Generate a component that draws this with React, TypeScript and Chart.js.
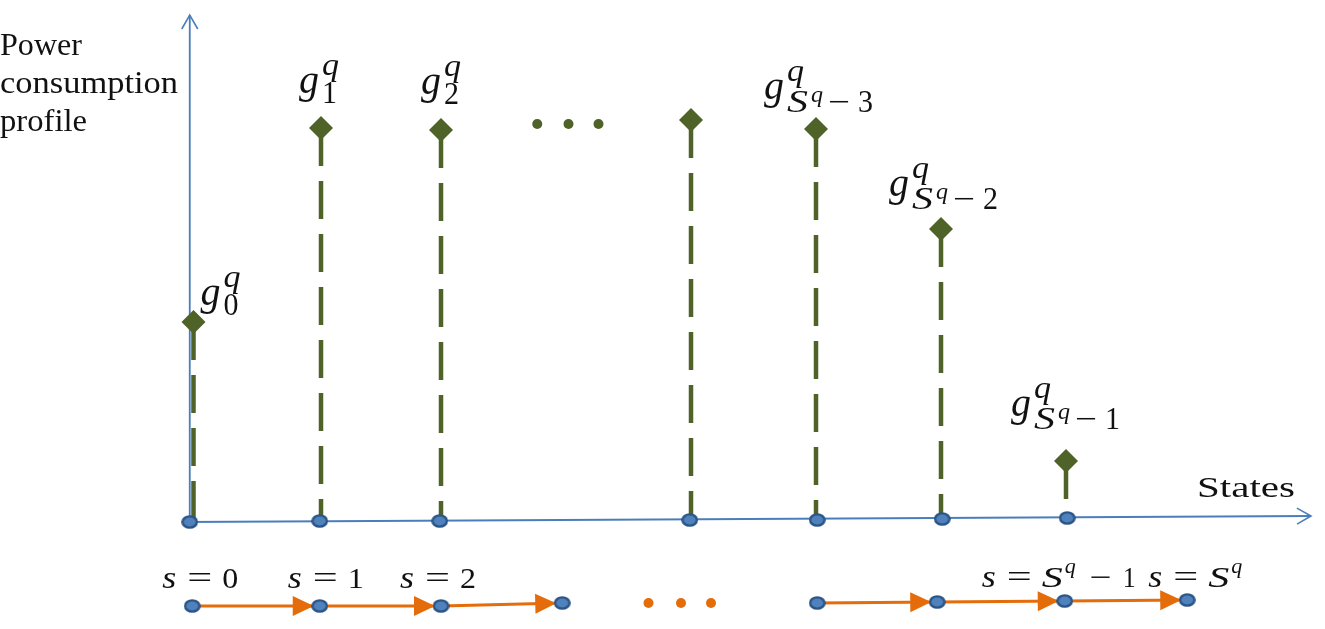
import React, { useEffect, useRef } from "react";
import { Chart, registerables } from "chart.js";

Chart.register(...registerables);

// ---------------- data ----------------
// state positions along the "States" axis (slot units) and power values
const stateSlots = [0.02, 1.04, 2.0, 4.0, 5.0, 6.0, 7.0];
const powerValues = [1.99, 3.93, 3.91, 4.01, 3.92, 2.92, 0.6];
const stateSubscripts = ["0", "1", "2", "", "S-3", "S-2", "S-1"];

// blue state markers on the horizontal axis
const axisDotSlots = [-0.01, 1.03, 1.99, 3.99, 5.01, 6.01, 7.01];
const axisDotValues = [-0.01, 0.0, 0.0, 0.01, 0.01, 0.02, 0.03];

// "..." between g2 and the later states
const topEllipsisSlots = [2.77, 3.02, 3.26];
const topEllipsisValues = [3.97, 3.97, 3.97];

// state transition chains below the axis
const chainSlotsA = [0.01, 1.03, 2.0, 2.97];
const chainValuesA = [-0.85, -0.85, -0.85, -0.82];
const chainSlotsB = [5.01, 5.97, 6.99, 7.97];
const chainValuesB = [-0.82, -0.81, -0.8, -0.79];
const bottomEllipsisSlots = [3.66, 3.92, 4.16];
const bottomEllipsisValues = [-0.82, -0.82, -0.82];

// chain labels: chain letter + point index, and the state shown
const chainLabelKeys = ["A0", "A1", "A2", "B2", "B3"];
const chainLabelTexts = ["0", "1", "2", "Sq-1", "Sq"];

// axes
const yAxisSlots = [-0.01, -0.01];
const yAxisValues = [-0.01, 5.06];
const xAxisSlots = [-0.05, 8.96];
const xAxisValues = [-0.01, 0.05];

const yTitleLines = ["Power", "consumption", "profile"];
const xTitle = "States";

// ---------------- styles / layout ----------------
const GREEN = "#4F6228";
const BLUE = "#4A7EBB";
const ORANGE = "#E46C0A";
const FONT = '"Liberation Serif", "Times New Roman", serif';

// per-state label offsets (pixels from diamond)
const gLabelOffsets = [
  [7, -17],
  [-22, -35],
  [-20, -36],
  [0, 0],
  [-52, -30],
  [-52, -33],
  [-55, -45],
];
const chainLabelOffsets = [
  [-30, -18],
  [-32, -18],
  [-41, -18],
  [-83, -14],
  [-39, -13],
];

type Piece = { t: string; dx: number; dy: number; s: number; i: boolean; w?: number };

function gPieces(sub: string): Piece[] {
  const p: Piece[] = [
    { t: "g", dx: 0, dy: 0, s: 42, i: true, w: 20 },
    { t: "q", dx: 23, dy: -18, s: 31, i: true, w: 17 },
  ];
  if (/^\d$/.test(sub)) {
    p.push({ t: sub, dx: 23, dy: 10, s: 31, i: false, w: 15 });
  } else {
    const k = sub.split("-")[1];
    p.push(
      { t: "S", dx: 23, dy: 13, s: 31, i: true, w: 21 },
      { t: "q", dx: 47, dy: 3, s: 23, i: true, w: 12 },
      { t: "\u2212", dx: 64, dy: 13, s: 31, i: false, w: 22 },
      { t: k, dx: 94, dy: 13, s: 31, i: false, w: 15 }
    );
  }
  return p;
}

function sPieces(kind: string): Piece[] {
  const p: Piece[] = [
    { t: "s", dx: 0, dy: 0, s: 31, i: true, w: 14 },
    { t: "=", dx: 25, dy: 0, s: 31, i: false, w: 25 },
  ];
  if (/^\d$/.test(kind)) {
    p.push({ t: kind, dx: 60, dy: 0, s: 30, i: false, w: 16 });
  } else {
    p.push(
      { t: "S", dx: 60, dy: 0, s: 30, i: true, w: 21 },
      { t: "q", dx: 83, dy: -14, s: 21, i: true, w: 11 }
    );
    if (kind === "Sq-1") {
      p.push(
        { t: "\u2212", dx: 108, dy: 0, s: 30, i: false, w: 22 },
        { t: "1", dx: 141, dy: 0, s: 30, i: false, w: 13 }
      );
    }
  }
  return p;
}

function put(ctx: CanvasRenderingContext2D, pc: Piece, x: number, y: number) {
  ctx.font = `${pc.i ? "italic " : ""}${pc.s}px ${FONT}`;
  const m = ctx.measureText(pc.t).width;
  ctx.save();
  ctx.translate(x + pc.dx, y + pc.dy);
  if (pc.w && m > 0) ctx.scale(pc.w / m, 1);
  ctx.fillText(pc.t, 0, 0);
  ctx.restore();
}

function putText(ctx: CanvasRenderingContext2D, t: string, x: number, y: number, size: number, w: number) {
  put(ctx, { t, dx: 0, dy: 0, s: size, i: false, w }, x, y);
}

function makeEllipse(): HTMLCanvasElement {
  const c = document.createElement("canvas");
  c.width = 17;
  c.height = 14;
  const g = c.getContext("2d")!;
  g.beginPath();
  g.ellipse(8.5, 7, 7.2, 5.6, 0, 0, Math.PI * 2);
  g.fillStyle = "#4F81BD";
  g.fill();
  g.lineWidth = 2.4;
  g.strokeStyle = "#2C5586";
  g.stroke();
  return c;
}

const pts = (xs: number[], ys: number[]) => xs.map((x, i) => ({ x, y: ys[i] }));

export default function App() {
  const ref = useRef<HTMLCanvasElement>(null);

  useEffect(() => {
    document.body.style.margin = "0";
    document.body.style.overflow = "hidden";
    const canvas = ref.current!;
    const ellipse = makeEllipse();

    const stemDatasets = stateSlots.map((sx, i) => ({
      type: "line" as const,
      data: [
        { x: sx, y: powerValues[i] },
        { x: sx, y: 0 },
      ],
      showLine: true,
      borderColor: GREEN,
      borderWidth: 4.5,
      borderDash: [38, 15],
      pointRadius: 0,
      order: 6,
    }));

    const overlay = {
      id: "overlay",
      beforeDatasetsDraw(chart: any) {
        const ctx = chart.ctx as CanvasRenderingContext2D;
        const xs = chart.scales.x;
        const ys = chart.scales.y;
        // chain arrowheads (filled triangles)
        const chains = [pts(chainSlotsA, chainValuesA), pts(chainSlotsB, chainValuesB)];
        ctx.save();
        ctx.fillStyle = ORANGE;
        for (const ch of chains) {
          for (let i = 1; i < ch.length; i++) {
            const x0 = xs.getPixelForValue(ch[i - 1].x);
            const y0 = ys.getPixelForValue(ch[i - 1].y);
            const x1 = xs.getPixelForValue(ch[i].x);
            const y1 = ys.getPixelForValue(ch[i].y);
            const a = Math.atan2(y1 - y0, x1 - x0);
            const tx = x1 - 6 * Math.cos(a);
            const ty = y1 - 6 * Math.sin(a);
            const L = 21;
            const H = 10;
            ctx.beginPath();
            ctx.moveTo(tx, ty);
            ctx.lineTo(tx - L * Math.cos(a) - H * Math.sin(a), ty - L * Math.sin(a) + H * Math.cos(a));
            ctx.lineTo(tx - L * Math.cos(a) + H * Math.sin(a), ty - L * Math.sin(a) - H * Math.cos(a));
            ctx.closePath();
            ctx.fill();
          }
        }
        ctx.restore();
      },
      afterDatasetsDraw(chart: any) {
        const ctx = chart.ctx as CanvasRenderingContext2D;
        const xs = chart.scales.x;
        const ys = chart.scales.y;
        // open arrowheads on axes
        const axes = [pts(yAxisSlots, yAxisValues), pts(xAxisSlots, xAxisValues)];
        ctx.save();
        ctx.strokeStyle = BLUE;
        ctx.lineWidth = 1.6;
        for (const ax of axes) {
          const x0 = xs.getPixelForValue(ax[0].x);
          const y0 = ys.getPixelForValue(ax[0].y);
          const x1 = xs.getPixelForValue(ax[1].x);
          const y1 = ys.getPixelForValue(ax[1].y);
          const a = Math.atan2(y1 - y0, x1 - x0);
          const L = 14;
          const H = 8;
          ctx.beginPath();
          ctx.moveTo(x1 - L * Math.cos(a) - H * Math.sin(a), y1 - L * Math.sin(a) + H * Math.cos(a));
          ctx.lineTo(x1, y1);
          ctx.lineTo(x1 - L * Math.cos(a) + H * Math.sin(a), y1 - L * Math.sin(a) - H * Math.cos(a));
          ctx.stroke();
        }
        ctx.restore();
      },
      afterDraw(chart: any) {
        const ctx = chart.ctx as CanvasRenderingContext2D;
        const xs = chart.scales.x;
        const ys = chart.scales.y;
        ctx.save();
        ctx.fillStyle = "#111";
        ctx.textBaseline = "alphabetic";
        ctx.textAlign = "left";
        // axis titles
        const titleW = [82, 178, 87];
        yTitleLines.forEach((t, i) => putText(ctx, t, 0, 55 + i * 38, 31, titleW[i]));
        const xEnd = xs.getPixelForValue(xAxisSlots[1]);
        const yEnd = ys.getPixelForValue(xAxisValues[1]);
        putText(ctx, xTitle, xEnd - 114, yEnd - 19, 30, 98);
        // g labels
        stateSubscripts.forEach((sub, i) => {
          if (!sub) return;
          const px = xs.getPixelForValue(stateSlots[i]) + gLabelOffsets[i][0];
          const py = ys.getPixelForValue(powerValues[i]) + gLabelOffsets[i][1];
          gPieces(sub).forEach((pc) => put(ctx, pc, px, py));
        });
        // chain labels
        chainLabelKeys.forEach((key, i) => {
          const slots = key[0] === "A" ? chainSlotsA : chainSlotsB;
          const vals = key[0] === "A" ? chainValuesA : chainValuesB;
          const idx = Number(key.slice(1));
          const px = xs.getPixelForValue(slots[idx]) + chainLabelOffsets[i][0];
          const py = ys.getPixelForValue(vals[idx]) + chainLabelOffsets[i][1];
          sPieces(chainLabelTexts[i]).forEach((pc) => put(ctx, pc, px, py));
        });
        ctx.restore();
      },
    };

    const chart = new Chart(canvas, {
      type: "scatter",
      data: {
        datasets: [
          {
            type: "line",
            data: pts(yAxisSlots, yAxisValues),
            showLine: true,
            borderColor: BLUE,
            borderWidth: 1.8,
            pointRadius: 0,
            order: 8,
          },
          {
            type: "line",
            data: pts(xAxisSlots, xAxisValues),
            showLine: true,
            borderColor: BLUE,
            borderWidth: 1.8,
            pointRadius: 0,
            order: 7,
          },
          ...stemDatasets,
          {
            data: pts(stateSlots, powerValues),
            pointStyle: "rectRot",
            pointRadius: 12,
            backgroundColor: GREEN,
            borderColor: GREEN,
            borderWidth: 0,
            order: 4,
          },
          {
            data: pts(axisDotSlots, axisDotValues),
            pointStyle: ellipse,
            order: 3,
          },
          {
            data: pts(topEllipsisSlots, topEllipsisValues),
            pointStyle: "circle",
            pointRadius: 5,
            backgroundColor: GREEN,
            borderWidth: 0,
            order: 3,
          },
          {
            data: pts(bottomEllipsisSlots, bottomEllipsisValues),
            pointStyle: "circle",
            pointRadius: 5,
            backgroundColor: ORANGE,
            borderWidth: 0,
            order: 3,
          },
          {
            type: "line",
            data: pts(chainSlotsA, chainValuesA),
            showLine: true,
            borderColor: ORANGE,
            borderWidth: 3,
            pointStyle: ellipse,
            order: 1,
          },
          {
            type: "line",
            data: pts(chainSlotsB, chainValuesB),
            showLine: true,
            borderColor: ORANGE,
            borderWidth: 3,
            pointStyle: ellipse,
            order: 1,
          },
        ] as any,
      },
      options: {
        animation: false,
        responsive: false,
        maintainAspectRatio: false,
        layout: { padding: 0, autoPadding: false },
        plugins: { legend: { display: false }, tooltip: { enabled: false }, title: { display: false } },
        events: [],
        scales: {
          x: { type: "linear", min: -1.528, max: 9.072, display: false },
          y: { type: "linear", min: -1.08, max: 5.21, display: false },
        },
        elements: { line: { tension: 0 } },
      },
      plugins: [overlay],
    });
    return () => chart.destroy();
  }, []);

  return (
    <div style={{ width: 1325, height: 629, background: "#fff" }}>
      <canvas ref={ref} width={1325} height={629} style={{ display: "block" }} />
    </div>
  );
}
